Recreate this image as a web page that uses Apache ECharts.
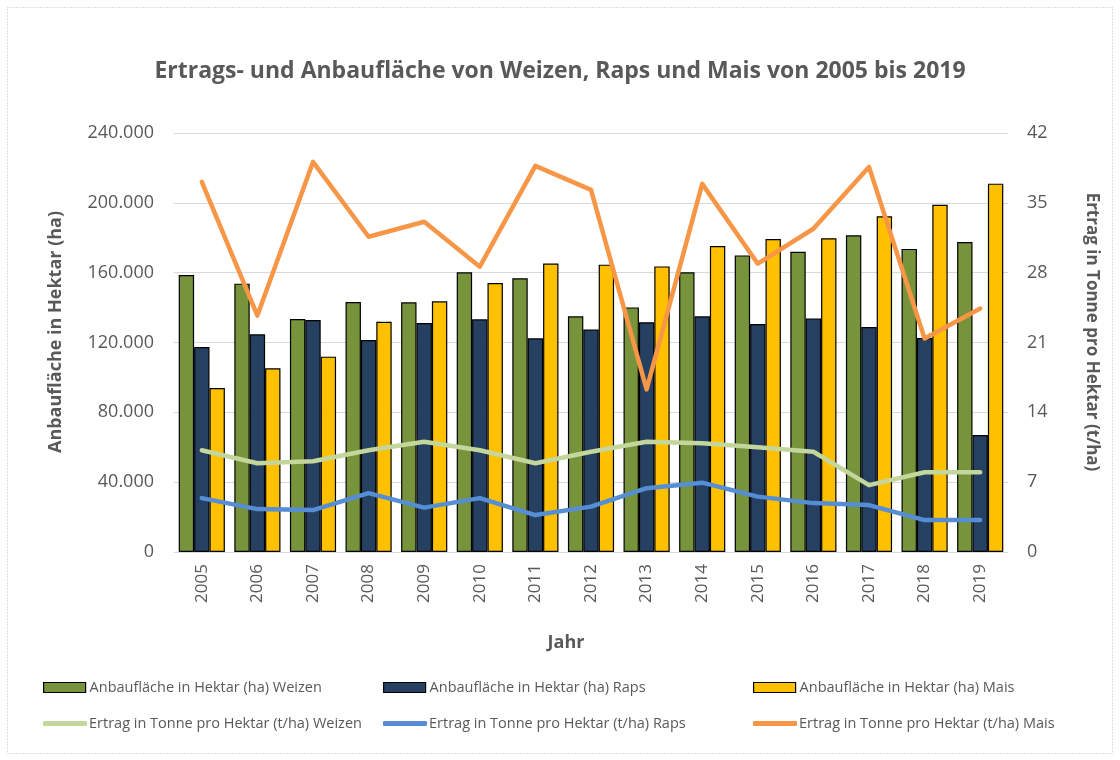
<!DOCTYPE html>
<html>
<head>
<meta charset="utf-8">
<script src="https://cdn.jsdelivr.net/npm/echarts@6/dist/echarts.min.js"></script>
<style>
  html, body { margin: 0; padding: 0; background: #fff; }
  #chart { width: 1120px; height: 760px; }
</style>
</head>
<body>
<div id="chart"></div>
<script>
// --- Daten ---
const years = ['2005', '2006', '2007', '2008', '2009', '2010', '2011', '2012', '2013', '2014', '2015', '2016', '2017', '2018', '2019'];

// Anbaufläche in Hektar (ha)
const flaecheWeizen = [158700, 153700, 133500, 143200, 143000, 160200, 156800, 135000, 140100, 160200, 169900, 172000, 181400, 173600, 177600];
const flaecheRaps   = [117400, 124700, 132900, 121400, 131200, 133300, 122400, 127400, 131600, 135000, 130600, 133800, 128900, 122600, 67000];
const flaecheMais   = [93900, 105200, 111900, 131900, 143600, 154100, 165200, 164600, 163600, 175300, 179300, 179700, 192300, 198900, 211000];

// Ertrag in Tonne pro Hektar (t/ha)
const ertragWeizen = [10.2, 8.9, 9.1, 10.2, 11.05, 10.2, 8.9, 10.05, 11.05, 10.9, 10.5, 10.05, 6.7, 8.0, 8.0];
const ertragRaps   = [5.4, 4.3, 4.2, 5.9, 4.45, 5.4, 3.7, 4.55, 6.4, 6.95, 5.55, 4.9, 4.7, 3.2, 3.2];
const ertragMais   = [37.1, 23.7, 39.1, 31.6, 33.1, 28.6, 38.7, 36.3, 16.3, 36.9, 28.9, 32.4, 38.6, 21.4, 24.4];

// Farben
const COLORS = {
  weizen: '#77933C',
  raps: '#254061',
  mais: '#FFC000',
  lWeizen: '#C3D69B',
  lRaps: '#558ED5',
  lMais: '#F79646',
  text: '#595959',
  grid: '#D9D9D9'
};

const FONT = '"Open Sans", sans-serif';

const fmtDE = (v) => String(v).replace(/\B(?=(\d{3})+(?!\d))/g, '.');

const N = {
  fW: 'Anbaufläche in Hektar (ha) Weizen',
  fR: 'Anbaufläche in Hektar (ha) Raps',
  fM: 'Anbaufläche in Hektar (ha) Mais',
  eW: 'Ertrag in Tonne pro Hektar (t/ha) Weizen',
  eR: 'Ertrag in Tonne pro Hektar (t/ha) Raps',
  eM: 'Ertrag in Tonne pro Hektar (t/ha) Mais'
};

const barLegend = (name, left, top) => ({
  data: [{ name, icon: 'rect' }],
  left, top,
  itemWidth: 42, itemHeight: 10, itemGap: 0,
  itemStyle: { borderColor: '#000', borderWidth: 1.2 },
  textStyle: { color: COLORS.text, fontSize: 14.5, fontFamily: FONT, padding: [0, 0, 0, -1] },
  selectedMode: false
});
const lineLegend = (name, left, top) => ({
  data: [{ name, icon: 'roundRect' }],
  left, top,
  itemWidth: 44, itemHeight: 5, itemGap: 0,
  itemStyle: { borderWidth: 0 },
  lineStyle: { width: 0 },
  textStyle: { color: COLORS.text, fontSize: 14.5, fontFamily: FONT, padding: [0, 0, 0, -3] },
  selectedMode: false
});

const barSeries = (name, data, color) => ({
  name, type: 'bar', data,
  yAxisIndex: 0,
  barGap: '0%',
  barCategoryGap: '17%',
  itemStyle: { color, borderColor: '#000', borderWidth: 1.2 },
  animation: false
});
const lineSeries = (name, data, color) => ({
  name, type: 'line', data,
  yAxisIndex: 1,
  showSymbol: false,
  symbol: 'none',
  lineStyle: { color, width: 4.5, cap: 'round', join: 'round' },
  itemStyle: { color },
  z: 5,
  animation: false
});

const chart = echarts.init(document.getElementById('chart'));

chart.setOption({
  backgroundColor: '#fff',
  animation: false,
  title: {
    text: 'Ertrags- und Anbaufläche von Weizen, Raps und Mais von 2005 bis 2019',
    left: 'center',
    top: 55,
    textStyle: { color: COLORS.text, fontSize: 23, fontWeight: 'bold', fontFamily: FONT }
  },
  graphic: [
    {
      type: 'rect',
      shape: { x: 7.5, y: 7.5, width: 1105, height: 746 },
      style: { fill: 'none', stroke: '#BFBFBF', lineWidth: 1, lineDash: [1, 2] },
      silent: true
    },
    {
      type: 'text',
      x: 566, y: 643,
      style: { text: 'Jahr', fill: COLORS.text, font: 'bold 18px ' + FONT, align: 'center', verticalAlign: 'middle' }
    },
    {
      type: 'text',
      x: 56, y: 332,
      rotation: Math.PI / 2,
      style: { text: 'Anbaufläche in Hektar (ha)', fill: COLORS.text, font: 'bold 18px ' + FONT, align: 'center', verticalAlign: 'middle' }
    },
    {
      type: 'text',
      x: 1092, y: 332,
      rotation: -Math.PI / 2,
      style: { text: 'Ertrag in Tonne pro Hektar (t/ha)', fill: COLORS.text, font: 'bold 17px ' + FONT, align: 'center', verticalAlign: 'middle' }
    }
  ],
  legend: [
    barLegend(N.fW, 38, 675),
    barLegend(N.fR, 378, 675),
    barLegend(N.fM, 748, 675),
    lineLegend(N.eW, 38, 711),
    lineLegend(N.eR, 378, 711),
    lineLegend(N.eM, 748, 711)
  ],
  grid: { left: 174, right: 112, top: 133, bottom: 208 },
  xAxis: {
    type: 'category',
    data: years,
    axisLine: { lineStyle: { color: COLORS.grid, width: 1 } },
    axisTick: { show: false },
    axisLabel: { rotate: 90, color: COLORS.text, fontSize: 17, fontFamily: FONT, margin: 12 }
  },
  yAxis: [
    {
      type: 'value',
      min: 0, max: 240000, interval: 40000,
      axisLine: { show: false },
      axisTick: { show: false },
      splitLine: { lineStyle: { color: COLORS.grid, width: 1 } },
      axisLabel: { color: COLORS.text, fontSize: 18, fontFamily: FONT, margin: 20, formatter: (v) => fmtDE(v) }
    },
    {
      type: 'value',
      min: 0, max: 42, interval: 7,
      axisLine: { show: false },
      axisTick: { show: false },
      splitLine: { show: false },
      axisLabel: { color: COLORS.text, fontSize: 18, fontFamily: FONT, margin: 19 }
    }
  ],
  series: [
    barSeries(N.fW, flaecheWeizen, COLORS.weizen),
    barSeries(N.fR, flaecheRaps, COLORS.raps),
    barSeries(N.fM, flaecheMais, COLORS.mais),
    lineSeries(N.eW, ertragWeizen, COLORS.lWeizen),
    lineSeries(N.eR, ertragRaps, COLORS.lRaps),
    lineSeries(N.eM, ertragMais, COLORS.lMais)
  ]
});
</script>
</body>
</html>
